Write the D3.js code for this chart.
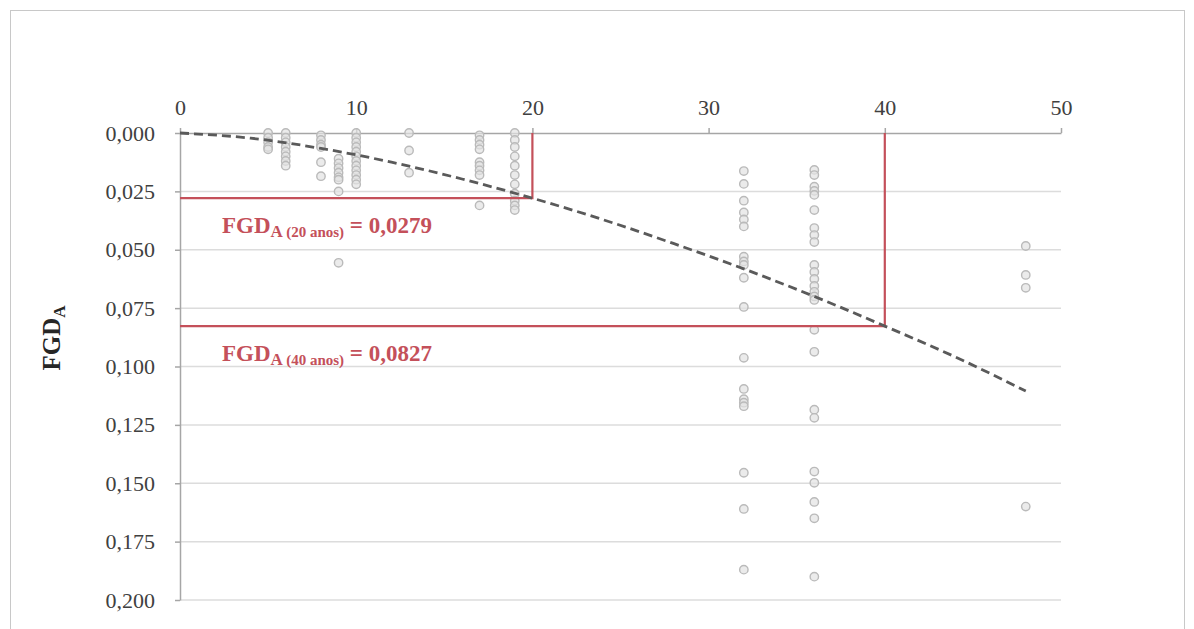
<!DOCTYPE html>
<html>
<head>
<meta charset="utf-8">
<script src="https://cdn.jsdelivr.net/npm/d3@7"></script>
<style>
  body { margin: 0; background: #fff; }
  svg { display: block; }
</style>
</head>
<body>
<svg id="chart" width="1194" height="629"></svg>
<script>
// idade (anos) e FGD_A observados
const ageCols = [5, 6, 8, 9, 10, 13, 17, 19, 32, 36, 48];
const fgdByAge = [
    [0, 0.002, 0.004, 0.006, 0.007],
    [0, 0.002, 0.004, 0.006, 0.008, 0.010, 0.012, 0.014],
    [0.001, 0.003, 0.005, 0.006, 0.0125, 0.0185],
    [0.011, 0.013, 0.015, 0.017, 0.019, 0.020, 0.025, 0.0556],
    [0, 0.002, 0.004, 0.006, 0.008, 0.010, 0.012, 0.014, 0.016, 0.018, 0.020, 0.022],
    [0, 0.0075, 0.017],
    [0.001, 0.003, 0.005, 0.007, 0.0125, 0.014, 0.016, 0.018, 0.031],
    [0, 0.003, 0.006, 0.010, 0.014, 0.018, 0.022, 0.026, 0.029, 0.031, 0.033],
    [0.0163, 0.0218, 0.029, 0.034, 0.037, 0.040, 0.053, 0.055, 0.0565, 0.062,
     0.0745, 0.0963, 0.1096, 0.114, 0.1155, 0.117, 0.1455, 0.161, 0.187],
    [0.0158, 0.018, 0.023, 0.0248, 0.0265, 0.033, 0.0407, 0.0437, 0.0467, 0.0565,
     0.0595, 0.0625, 0.0655, 0.068, 0.070, 0.0715, 0.0843, 0.0937, 0.1185, 0.122,
     0.145, 0.1498, 0.158, 0.165, 0.190],
    [0.0484, 0.0608, 0.0663, 0.160]
];

// curva ajustada (tracejada)
const trendAge = [0, 4, 8, 12, 16, 20, 24, 28, 32, 36, 40, 44, 48];
const trendFgd = [0, 0.0022, 0.0066, 0.0125, 0.0197, 0.0279, 0.0371, 0.0473, 0.0582, 0.0700, 0.0827, 0.0959, 0.1105];

// marcações
const markAge = [20, 40];
const markFgd = [0.0279, 0.0827];
const markLabel = ["0,0279", "0,0827"];

const xTicks = [0, 10, 20, 30, 40, 50];
const yTicks = [0, 0.025, 0.05, 0.075, 0.1, 0.125, 0.15, 0.175, 0.2];

const RED = "#c4505a";

const svg = d3.select("#chart");

// moldura externa
svg.append("rect")
    .attr("x", 10.5).attr("y", 10.5)
    .attr("width", 1174).attr("height", 640)
    .attr("fill", "none").attr("stroke", "#c8c8c8");

const x = d3.scaleLinear().domain([0, 50]).range([180, 1061]);
const y = d3.scaleLinear().domain([0, 0.2]).range([133, 600]);

// grade horizontal
svg.append("g")
    .selectAll("line")
    .data(yTicks.slice(1))
    .join("line")
    .attr("x1", x(0)).attr("x2", x(50))
    .attr("y1", d => y(d)).attr("y2", d => y(d))
    .attr("stroke", "#dcdcdc").attr("stroke-width", 1.5);

// eixo superior
const xAxis = svg.append("g")
    .attr("transform", `translate(0,${y(0)})`)
    .call(d3.axisTop(x).tickValues(xTicks).tickSize(5).tickSizeOuter(0).tickFormat(d3.format("d")));
xAxis.select(".domain").attr("stroke", "#a6a6a6").attr("stroke-width", 1.5);
xAxis.selectAll(".tick line").attr("stroke", "#a6a6a6").attr("stroke-width", 1.5);
xAxis.selectAll(".tick text")
    .attr("y", -18)
    .attr("fill", "#404040")
    .style("font-family", "'Liberation Serif', 'DejaVu Serif', serif")
    .style("font-size", "22px");

// eixo esquerdo
const fmt = d => d3.format(".3f")(d).replace(".", ",");
const yAxis = svg.append("g")
    .attr("transform", `translate(${x(0)},0)`)
    .call(d3.axisLeft(y).tickValues(yTicks).tickSize(5).tickSizeOuter(0).tickFormat(fmt));
yAxis.select(".domain").attr("stroke", "#a6a6a6").attr("stroke-width", 1.5);
yAxis.selectAll(".tick text")
    .attr("x", -25)
    .attr("fill", "#404040")
    .style("font-family", "'Liberation Serif', 'DejaVu Serif', serif")
    .style("font-size", "22px");
yAxis.selectAll(".tick line").attr("stroke", "#a6a6a6").attr("stroke-width", 1.5);

// título do eixo y
const yTitle = svg.append("text")
    .attr("transform", "translate(60,338) rotate(-90)")
    .attr("text-anchor", "middle")
    .attr("fill", "#262626")
    .style("font-family", "'Liberation Serif', serif")
    .style("font-weight", "bold")
    .style("font-size", "25px");
yTitle.append("tspan").text("FGD");
yTitle.append("tspan").attr("dy", 5).style("font-size", "17px").text("A");

// pontos observados
const points = [];
ageCols.forEach((a, i) => fgdByAge[i].forEach(v => points.push({ age: a, fgd: v })));

svg.append("g")
    .selectAll("circle")
    .data(points)
    .join("circle")
    .attr("cx", d => x(d.age))
    .attr("cy", d => y(d.fgd))
    .attr("r", 4.2)
    .attr("fill", "#e2e2e2")
    .attr("fill-opacity", 0.7)
    .attr("stroke", "#bababa")
    .attr("stroke-width", 1.4);

// linhas de marcação
markAge.forEach((a, i) => {
    svg.append("path")
        .attr("d", d3.line()([[x(0), y(markFgd[i])], [x(a), y(markFgd[i])], [x(a), y(0)]]))
        .attr("fill", "none")
        .attr("stroke", RED)
        .attr("stroke-width", 2.2);
});

// curva ajustada
const line = d3.line()
    .x(d => x(d[0]))
    .y(d => y(d[1]))
    .curve(d3.curveMonotoneX);
svg.append("path")
    .datum(trendAge.map((a, i) => [a, trendFgd[i]]))
    .attr("d", line)
    .attr("fill", "none")
    .attr("stroke", "#5a5a5a")
    .attr("stroke-width", 2.8)
    .attr("stroke-dasharray", "9,5");

// rótulos
markAge.forEach((a, i) => {
    const t = svg.append("text")
        .attr("x", 222)
        .attr("y", y(markFgd[i]) + 35)
        .attr("fill", RED)
        .style("font-family", "'Liberation Serif', serif")
        .style("font-weight", "bold")
        .style("font-size", "23px");
    t.append("tspan").text("FGD");
    t.append("tspan").attr("dy", 4).style("font-size", "17px").text("A ");
    t.append("tspan").style("font-size", "15px").text(`(${a} anos)`);
    t.append("tspan").attr("dy", -4).text(" = " + markLabel[i]);
});
</script>
</body>
</html>
